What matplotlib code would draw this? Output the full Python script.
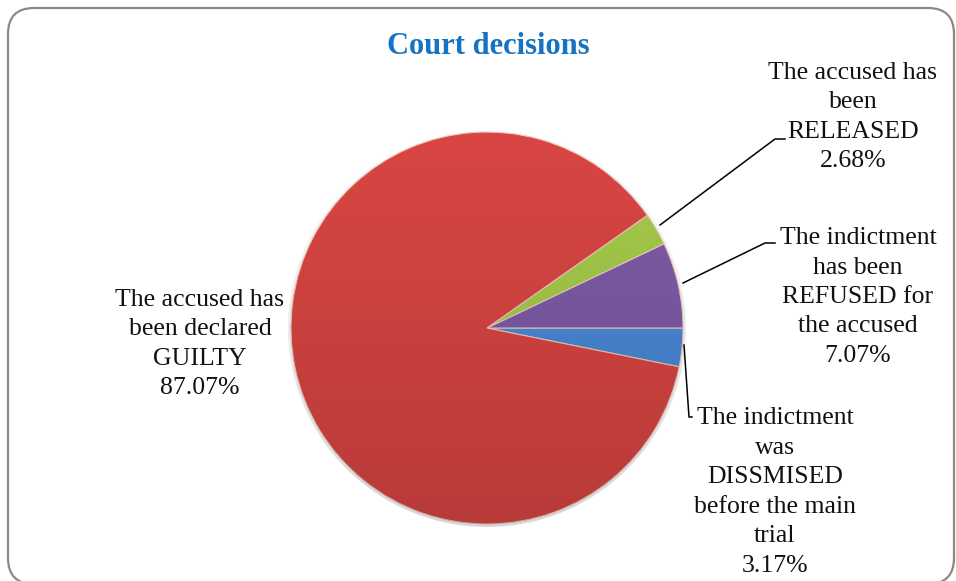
import matplotlib.pyplot as plt
import numpy as np
from matplotlib.patches import FancyBboxPatch, Circle

W, H = 956, 581

# data (counter-clockwise from -11.4 deg)
labels = ['The indictment\nwas\nDISSMISED\nbefore the main\ntrial',
          'The indictment\nhas been\nREFUSED for\nthe accused',
          'The accused has\nbeen\nRELEASED',
          'The accused has\nbeen declared\nGUILTY']
values = [3.17, 7.07, 2.68, 87.07]
colors = ['#4A8AD8', '#7E5CA8', '#A6CC4A', '#DA4643']

plt.rcParams['font.family'] = ['Liberation Serif', 'DejaVu Serif']

fig = plt.figure(figsize=(W / 100, H / 100), dpi=100)
ax = fig.add_axes([0, 0, 1, 1])
ax.set_xlim(0, W)
ax.set_ylim(0, H)
ax.set_aspect('equal')
ax.axis('off')


def sy(y):
    return H - y


# frame
frame = FancyBboxPatch((8, sy(584)), 946, 576, boxstyle='round,pad=0,rounding_size=26',
                       fc='white', ec='#8a8a8a', lw=1.6, zorder=0)
ax.add_patch(frame)

cx, cy, r = 487, sy(328), 196
start = -values[0] * 3.6
wedges, _ = ax.pie(values, colors=colors, startangle=start, counterclock=True,
                   center=(cx, cy), radius=r, explode=[0, 0, 0, 0.015],
                   wedgeprops=dict(edgecolor='#f0c8c0', linewidth=0.8))
ax.set_xlim(0, W)
ax.set_ylim(0, H)

# soft darkening towards the bottom, like the bevelled pie
shade = np.zeros((256, 1, 4))
shade[:, 0, 3] = np.linspace(0, 0.16, 256)
img = ax.imshow(shade, extent=(cx - r - 10, cx + r + 10, cy - r - 10, cy + r + 10),
                origin='upper', zorder=3, interpolation='bilinear')
img.set_clip_path(Circle((cx, cy), r + 3, transform=ax.transData))
ax.set_xlim(0, W)
ax.set_ylim(0, H)

ax.text(488, sy(47), 'Court decisions', ha='center', va='center', fontsize=22,
        fontweight='bold', color='#1673C3')

fs = 18.5
pct = ['%.2f%%' % v for v in values]
pos = [(775, 492), (858, 297), (853, 117), (200, 344)]
for lab, p, (x, y) in zip(labels, pct, pos):
    ax.text(x, sy(y), lab + '\n' + p, ha='center', va='center', fontsize=fs,
            multialignment='center', linespacing=1.44, color='#111111', zorder=5)

# leader lines
ax.plot([660, 775, 785], [sy(225), sy(139), sy(139)], color='black', lw=1.1, zorder=5)
ax.plot([683, 765, 775], [sy(283), sy(243), sy(243)], color='black', lw=1.1, zorder=5)
ax.plot([684, 689, 692], [sy(345), sy(417), sy(417)], color='black', lw=1.1, zorder=5)

plt.savefig('out.png', dpi=100)
